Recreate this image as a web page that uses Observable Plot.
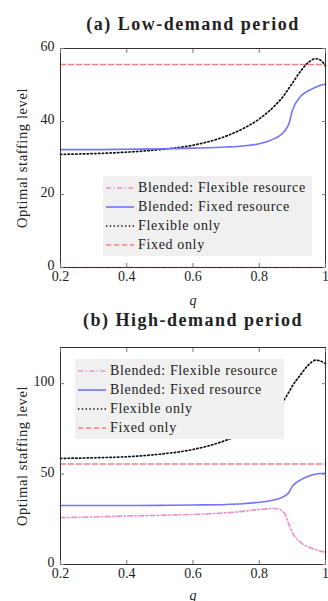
<!DOCTYPE html>
<html>
<head>
<meta charset="utf-8">
<script src="https://cdn.jsdelivr.net/npm/d3@7"></script>
<script src="https://cdn.jsdelivr.net/npm/@observablehq/plot@0.6"></script>
<style>
  html, body { margin: 0; padding: 0; background: #fff; }
  body { width: 328px; height: 601px; position: relative; overflow: hidden; font-family: "Liberation Serif", serif; }
  .title { position: absolute; left: 60px; width: 266px; text-align: center; font-weight: bold; font-size: 18px; letter-spacing: 1.5px; white-space: nowrap; color: #222; line-height: 20px; }
  .panel { position: absolute; left: 0; }
  .legend { position: absolute; background: #f0f0f0; padding: 2px 6px 2px 2px; font-size: 14px; letter-spacing: 0.65px; color: #222; }
  .legend .row { display: flex; align-items: center; height: 19px; white-space: nowrap; }
  .legend svg { margin-right: 3px; }
  svg.plotpanel text { font-family: "Liberation Serif", serif; }
</style>
</head>
<body>
<script>
// ---- data ----
const q = [0.2, 0.3, 0.4, 0.5, 0.6, 0.7, 0.75, 0.8, 0.825, 0.85, 0.875, 0.89, 0.9, 0.925, 0.95, 0.97, 0.985, 1.0];

// (a) Low-demand period
const lowBlendedFlexible = [0, 0, 0, 0, 0, 0, 0, 0, 0, 0, 0, 0, 0, 0, 0, 0, 0, 0];
const lowBlendedFixed    = [32.3, 32.3, 32.4, 32.5, 32.7, 33.0, 33.3, 33.9, 34.5, 35.5, 37.2, 39.5, 43.0, 46.9, 48.5, 49.4, 49.9, 50.3];
const lowFlexibleOnly    = [31.0, 31.2, 31.6, 32.3, 33.5, 36.0, 38.0, 40.7, 42.5, 44.6, 47.2, 49.2, 50.5, 53.8, 56.3, 57.2, 56.8, 55.2];
const lowFixedOnly       = [55.6, 55.6, 55.6, 55.6, 55.6, 55.6, 55.6, 55.6, 55.6, 55.6, 55.6, 55.6, 55.6, 55.6, 55.6, 55.6, 55.6, 55.6];

// (b) High-demand period
const highBlendedFlexible = [25.9, 26.3, 26.8, 27.2, 27.7, 28.6, 29.4, 30.4, 30.8, 31.0, 28.6, 22.0, 17.7, 12.2, 9.5, 8.2, 7.4, 6.8];
const highBlendedFixed    = [32.6, 32.6, 32.6, 32.7, 32.9, 33.2, 33.6, 34.4, 35.0, 35.9, 37.7, 40.0, 43.2, 46.8, 49.0, 49.9, 50.3, 50.5];
const highFlexibleOnly    = [58.7, 59.0, 59.6, 61.0, 63.6, 68.7, 72.5, 77.8, 81.0, 85.0, 91.0, 95.5, 98.7, 105.0, 110.6, 113.0, 112.5, 111.0];
const highFixedOnly       = [55.6, 55.6, 55.6, 55.6, 55.6, 55.6, 55.6, 55.6, 55.6, 55.6, 55.6, 55.6, 55.6, 55.6, 55.6, 55.6, 55.6, 55.6];

const titles = ["(a) Low-demand period", "(b) High-demand period"];
const seriesNames = ["Blended: Flexible resource", "Blended: Fixed resource", "Flexible only", "Fixed only"];
const xTicks = [0.2, 0.4, 0.6, 0.8, 1];
const xTickLabels = ["0.2", "0.4", "0.6", "0.8", "1"];
const lowYTicks = [0, 20, 40, 60];
const highYTicks = [0, 50, 100];
const xLabel = "q";
const yLabel = "Optimal staffing level";

// ---- styles ----
const styles = [
  {stroke: "#f28cc6", strokeWidth: 1.6, strokeDasharray: "5,2.5,1.2,2.5"},
  {stroke: "#7373ff", strokeWidth: 1.6, strokeDasharray: null},
  {stroke: "#111111", strokeWidth: 1.7, strokeDasharray: "1.4,2.4"},
  {stroke: "#ff7b7b", strokeWidth: 1.4, strokeDasharray: "5,3"}
];
const FONT = "Liberation Serif";

function makeTable(values) {
  return q.map((x, i) => ({q: x, v: values[i]}));
}

function makePanel(seriesValues, yDomain, yTicks, mTop, mBottom, qOffset) {
  const lines = [0, 1, 2, 3].map(k => Plot.line(makeTable(seriesValues[k]), {
    x: "q", y: "v", curve: "monotone-x",
    stroke: styles[k].stroke, strokeWidth: styles[k].strokeWidth,
    strokeDasharray: styles[k].strokeDasharray
  }));
  const svg = Plot.plot({
    width: 328, height: 272,
    marginLeft: 60, marginRight: 3, marginTop: mTop, marginBottom: mBottom,
    className: "plotpanel",
    style: {fontFamily: FONT, fontSize: "14px", color: "#222", background: "transparent", overflow: "visible"},
    x: {domain: [0.2, 1]},
    y: {domain: yDomain},
    marks: [
      lines[3], lines[2], lines[1], lines[0],
      Plot.frame({stroke: "#333", strokeWidth: 1}),
      Plot.axisX({anchor: "bottom", ticks: xTicks, tickSize: -4, tickPadding: 8, stroke: "#777",
        tickFormat: (d) => xTickLabels[xTicks.indexOf(d)], fontSize: 14, fontFamily: FONT,
        label: null}),
      Plot.axisX({anchor: "bottom", ticks: [], label: xLabel, labelAnchor: "center", labelArrow: "none",
        labelOffset: qOffset, fontSize: 14, fontFamily: FONT, fontStyle: "italic"}),
      Plot.axisX({anchor: "top", ticks: xTicks, tickSize: -4, stroke: "#777", tickFormat: () => "", label: null}),
      Plot.axisY({anchor: "left", ticks: yTicks, tickSize: -4, stroke: "#777", tickFormat: () => "", label: null}),
      Plot.axisY({anchor: "left", ticks: yTicks, tickSize: 0, tickPadding: 6, fontSize: 14,
        fontFamily: FONT, label: null, dy: -2}),
      Plot.axisY({anchor: "left", ticks: [], label: yLabel, labelAnchor: "center", labelArrow: "none",
        labelOffset: 44, fontSize: 14.5, fontFamily: FONT}),
      Plot.axisY({anchor: "right", ticks: yTicks, tickSize: -4, stroke: "#777", tickFormat: () => "", label: null})
    ]
  });
  return svg;
}

function legendBox(left, top) {
  const box = document.createElement("div");
  box.className = "legend";
  box.style.left = left + "px";
  box.style.top = top + "px";
  seriesNames.forEach((name, k) => {
    const row = document.createElement("div");
    row.className = "row";
    const s = styles[k];
    row.innerHTML = `<svg width="30" height="6"><line x1="1" y1="3" x2="29" y2="3" stroke="${s.stroke}" stroke-width="${s.strokeWidth}" ${s.strokeDasharray ? `stroke-dasharray="${s.strokeDasharray}"` : ""}/></svg><span>${name}</span>`;
    box.appendChild(row);
  });
  return box;
}

function addPanel(idx, top, titleTop, seriesValues, yDomain, yTicks, mTop, mBottom, qOffset, legLeft, legTop) {
  const t = document.createElement("div");
  t.className = "title";
  t.style.top = titleTop + "px";
  t.textContent = titles[idx];
  document.body.appendChild(t);
  const wrap = document.createElement("div");
  wrap.className = "panel";
  wrap.style.top = top + "px";
  const svg = makePanel(seriesValues, yDomain, yTicks, mTop, mBottom, qOffset);
  wrap.appendChild(svg);
  document.body.appendChild(wrap);
  svg.querySelectorAll("[aria-label='y-axis label']").forEach(n => n.setAttribute("letter-spacing", "0.6"));
  document.body.appendChild(legendBox(legLeft, legTop));
}

addPanel(0, 35, 14, [lowBlendedFlexible, lowBlendedFixed, lowFlexibleOnly, lowFixedOnly], [0, 60], lowYTicks, 13, 40, 37, 103, 176);
addPanel(1, 333, 310, [highBlendedFlexible, highBlendedFixed, highFlexibleOnly, highFixedOnly], [0, 120], highYTicks, 14, 41, 35, 75, 359);
</script>
</body>
</html>
